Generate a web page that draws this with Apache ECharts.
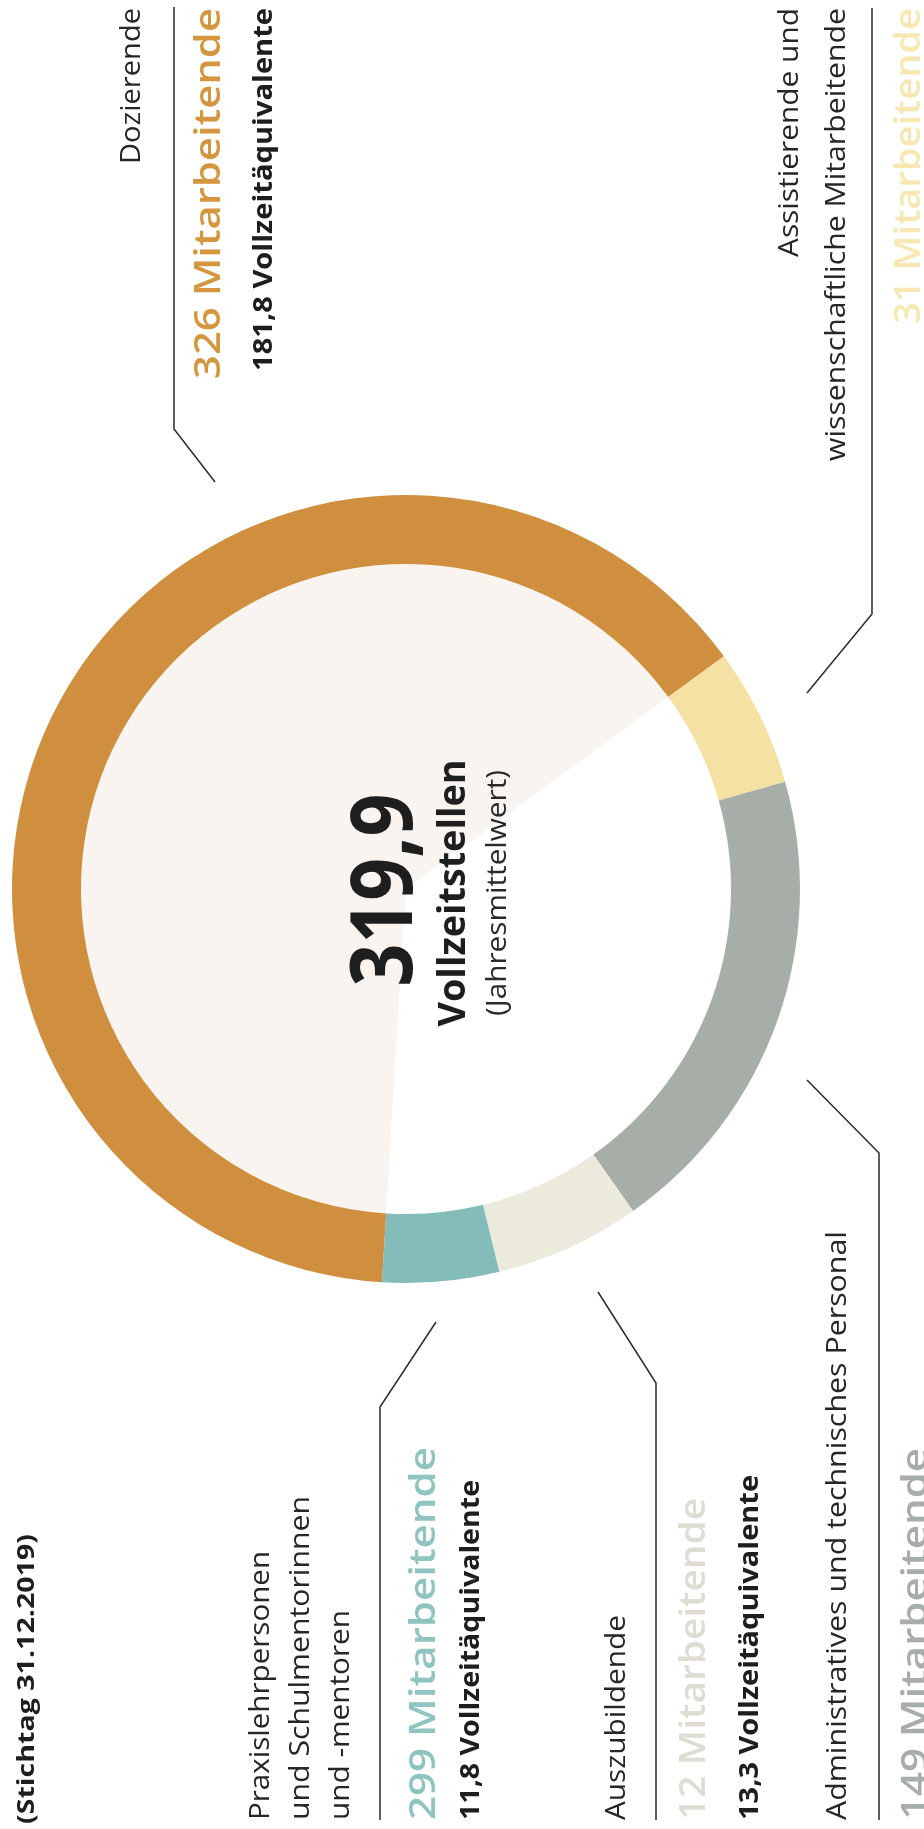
<!DOCTYPE html>
<html>
<head>
<meta charset="utf-8">
<script src="https://cdn.jsdelivr.net/npm/echarts@6/dist/echarts.min.js"></script>
<style>
  html, body { margin: 0; padding: 0; background: #fff; }
  #chart { width: 924px; height: 1829px; }
</style>
</head>
<body>
<div id="chart"></div>
<script>
// Daten
var categories = ['Dozierende', 'Assistierende und wissenschaftliche Mitarbeitende', 'Administratives und technisches Personal', 'Auszubildende', 'Praxislehrpersonen und Schulmentorinnen und -mentoren'];
var ringShare = [230.3, 20.4, 70.6, 21.5, 17.2];   // Bogenanteil im Ring (Grad, aus Bild geschaetzt)
var headcount = [326, 31, 149, 12, 299];
var fte = ['181,8', null, null, '13,3', '11,8'];
var totalFte = '319,9';
var stichtag = '(Stichtag 31.12.2019)';

// Farben
var ringColors = ['#cf8f3f', '#f6e1a4', '#a7aea8', '#ebeadc', '#84bcb9'];
var innerColors = ['#faf4f1', '#ffffff', '#ffffff', '#ffffff', '#ffffff'];
var countColors = ['#d4973f', '#f7e8b3', '#a7ada9', '#dfddd3', '#8fc4c1'];

// Beschriftungszeilen pro Kategorie (gedrehte Grafik: Text laeuft von unten nach oben)
var catLines = [
  ['Dozierende'],
  ['Assistierende und', 'wissenschaftliche Mitarbeitende'],
  ['Administratives und technisches Personal'],
  ['Auszubildende'],
  ['Praxislehrpersonen', 'und Schulmentorinnen', 'und -mentoren']
];
// Position: Spalten (x), Ankerpunkt y, Laengen
var layout = [
  { align: 'right', y: 8,    cols: [132],          lens: [156],          cnt: [210, 371], fte: [264, 363], line: [[174, 7], [174, 429], [215, 482]] },
  { align: 'right', y: 8,    cols: [790, 837],     lens: [249, 453],     cnt: [910, 316], fte: null,       line: [[872, 8], [872, 614], [807, 693]] },
  { align: 'left',  y: 1820, cols: [838],          lens: [589],          cnt: [917, 372], fte: null,       line: [[879, 1820], [879, 1153], [807, 1080]] },
  { align: 'left',  y: 1820, cols: [617],          lens: [205],          cnt: [695, 322], fte: [750, 345], line: [[656, 1820], [656, 1383], [598, 1292]] },
  { align: 'left',  y: 1820, cols: [261, 301, 341], lens: [269, 324, 210], cnt: [425, 373], fte: [471, 340], line: [[380, 1820], [380, 1407], [436, 1322]] }
];

var ctx = document.createElement('canvas').getContext('2d');
var FAM = '"Open Sans", "Noto Sans", sans-serif';

// gedrehter Text, auf Ziel-Laenge gestreckt
function vText(t, cx, y, len, size, weight, color, align) {
  ctx.font = weight + ' ' + size + 'px ' + FAM;
  var w = ctx.measureText(t).width;
  return {
    type: 'text', x: cx, y: y, z: 100, rotation: Math.PI / 2, scaleX: len / w, silent: true,
    style: { text: t, fill: color, fontSize: size, fontWeight: weight, fontFamily: FAM, align: align, verticalAlign: 'middle' }
  };
}

var elements = [];
for (var i = 0; i < categories.length; i++) {
  var L = layout[i];
  for (var k = 0; k < catLines[i].length; k++) {
    elements.push(vText(catLines[i][k], L.cols[k], L.y, L.lens[k], 27, 'normal', '#262626', L.align));
  }
  elements.push(vText(headcount[i] + ' Mitarbeitende', L.cnt[0], L.y, L.cnt[1], 36, 600, countColors[i], L.align));
  if (fte[i] && L.fte) {
    elements.push(vText(fte[i] + ' Vollzeitäquivalente', L.fte[0], L.y, L.fte[1], 27, 'bold', '#1e1e1e', L.align));
  }
  elements.push({
    type: 'polyline', silent: true, z: 100,
    shape: { points: L.line },
    style: { stroke: '#2b2b2b', lineWidth: 1.5, fill: null }
  });
}
elements.push(vText(stichtag, 27, 1824, 290, 24, 'bold', '#1e1e1e', 'left'));
elements.push(vText(totalFte, 387, 890, 193, 86, 'bold', '#1e1e1e', 'center'));
elements.push(vText('Vollzeitstellen', 454, 893, 267, 37, 'bold', '#1e1e1e', 'center'));
elements.push(vText('(Jahresmittelwert)', 498, 893, 246, 27, 'normal', '#2a2a2a', 'center'));

function pieData(cols) {
  return categories.map(function (c, j) {
    return { name: c, value: ringShare[j], itemStyle: { color: cols[j] } };
  });
}

var myChart = echarts.init(document.getElementById('chart'), null, { renderer: 'canvas' });
myChart.setOption({
  animation: false,
  backgroundColor: '#ffffff',
  series: [
    {
      type: 'pie', silent: true, center: [406, 889], radius: [0, 325], z: 1,
      startAngle: 266.5, clockwise: true,
      label: { show: false }, labelLine: { show: false },
      itemStyle: { borderWidth: 0 },
      data: pieData(innerColors)
    },
    {
      type: 'pie', silent: true, center: [406, 889], radius: [325, 394], z: 1,
      startAngle: 266.5, clockwise: true,
      label: { show: false }, labelLine: { show: false },
      itemStyle: { borderWidth: 0 },
      data: pieData(ringColors)
    }
  ],
  graphic: { elements: elements }
});
</script>
</body>
</html>
